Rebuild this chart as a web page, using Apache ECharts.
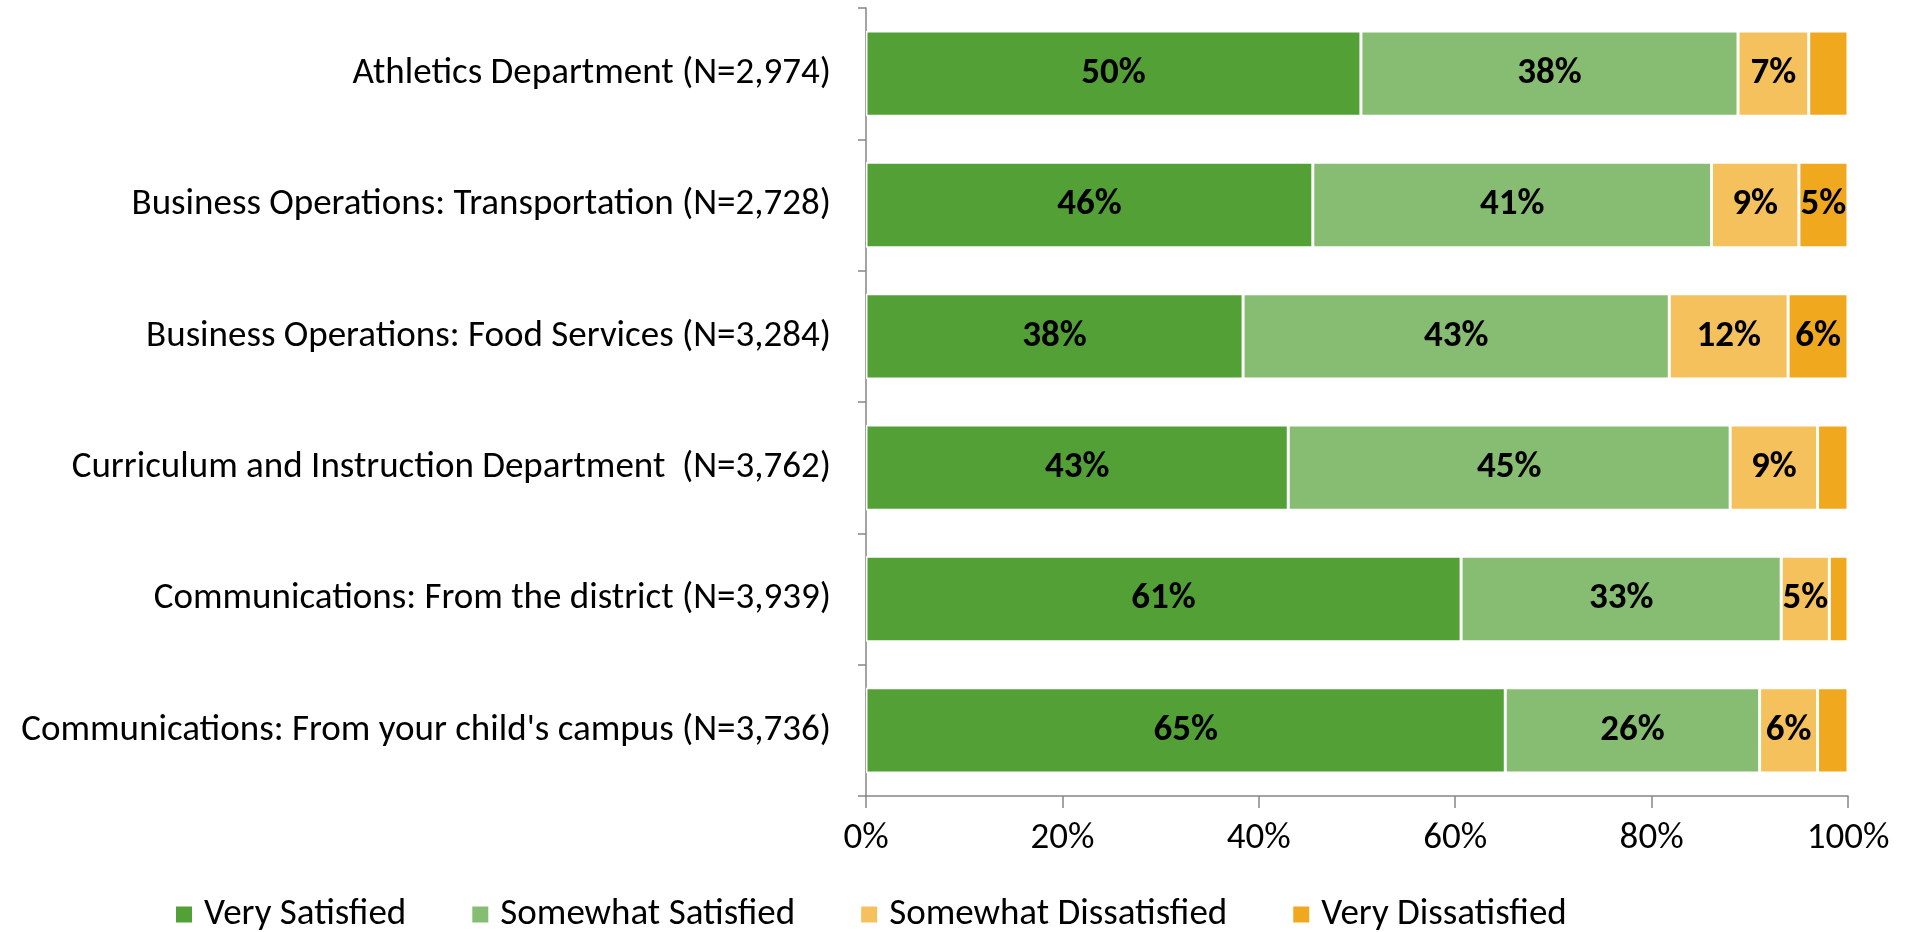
<!DOCTYPE html>
<html>
<head>
<meta charset="utf-8">
<script src="https://cdn.jsdelivr.net/npm/echarts@6/dist/echarts.min.js"></script>
<style>
  html, body { margin: 0; padding: 0; background: #fff; }
  #chart { width: 1908px; height: 932px; }
</style>
</head>
<body>
<div id="chart"></div>
<script>
// categories, top to bottom
var categories = [
  'Athletics Department (N=2,974)',
  'Business Operations: Transportation (N=2,728)',
  'Business Operations: Food Services (N=3,284)',
  'Curriculum and Instruction Department  (N=3,762)',
  'Communications: From the district (N=3,939)',
  "Communications: From your child's campus (N=3,736)"
];
var veryDissatisfied = [4.0, 5.0, 6.1, 3.1, 1.9, 3.1];
var somewhatDissatisfied = [7.2, 8.9, 12.1, 8.9, 4.9, 5.9];
var somewhatSatisfied = [38.4, 40.6, 43.4, 45.0, 32.6, 25.9];
var verySatisfied = [50.4, 45.5, 38.4, 43.0, 60.6, 65.1];
var tickLabels = ['0%', '20%', '40%', '60%', '80%', '100%'];

var font = "Carlito, 'Liberation Sans Narrow', 'DejaVu Sans Condensed', 'Noto Sans', sans-serif";

function makeSeries(name, data, color) {
  return {
    name: name,
    type: 'bar',
    stack: 'total',
    barWidth: '65%',
    data: data,
    itemStyle: { color: color, borderColor: '#fff', borderWidth: 1.5 },
    label: {
      show: true,
      position: 'inside',
      color: '#000',
      fontWeight: 'bold',
      fontSize: 37,
      fontFamily: font,
      formatter: function (p) {
        // small slices are left unlabelled
        return p.value < 4.5 ? '' : Math.round(p.value) + '%';
      }
    }
  };
}

var myChart = echarts.init(document.getElementById('chart'));
var option = {
  animation: false,
  grid: { left: 866, right: 60, top: 8, bottom: 136 },
  legend: {
    left: 169,
    top: 891,
    itemWidth: 18,
    itemHeight: 18,
    itemGap: 64,
    icon: 'rect',
    textStyle: { fontSize: 37, fontFamily: font, color: '#000', padding: [0, 0, 0, 6] },
    data: ['Very Satisfied', 'Somewhat Satisfied', 'Somewhat Dissatisfied', 'Very Dissatisfied']
  },
  xAxis: {
    type: 'value',
    min: 0,
    max: 100,
    interval: 20,
    splitLine: { show: false },
    axisLine: { show: true, lineStyle: { color: '#868686', width: 1.5 } },
    axisTick: { show: true, length: 12, lineStyle: { color: '#868686', width: 1.5 } },
    axisLabel: {
      margin: 24,
      fontSize: 37,
      fontFamily: font,
      color: '#000',
      formatter: function (v) { return tickLabels[v / 20]; }
    }
  },
  yAxis: {
    type: 'category',
    inverse: true,
    data: categories,
    axisLine: { show: true, lineStyle: { color: '#868686', width: 1.5 } },
    axisTick: { show: true, length: 8, lineStyle: { color: '#868686', width: 1.5 } },
    axisLabel: { margin: 35, fontSize: 37, fontFamily: font, color: '#000' }
  },
  series: [
    makeSeries('Very Satisfied', verySatisfied, '#53a036'),
    makeSeries('Somewhat Satisfied', somewhatSatisfied, '#87bc73'),
    makeSeries('Somewhat Dissatisfied', somewhatDissatisfied, '#f4c15d'),
    makeSeries('Very Dissatisfied', veryDissatisfied, '#f0a91f')
  ]
};
myChart.setOption(option);
</script>
</body>
</html>
